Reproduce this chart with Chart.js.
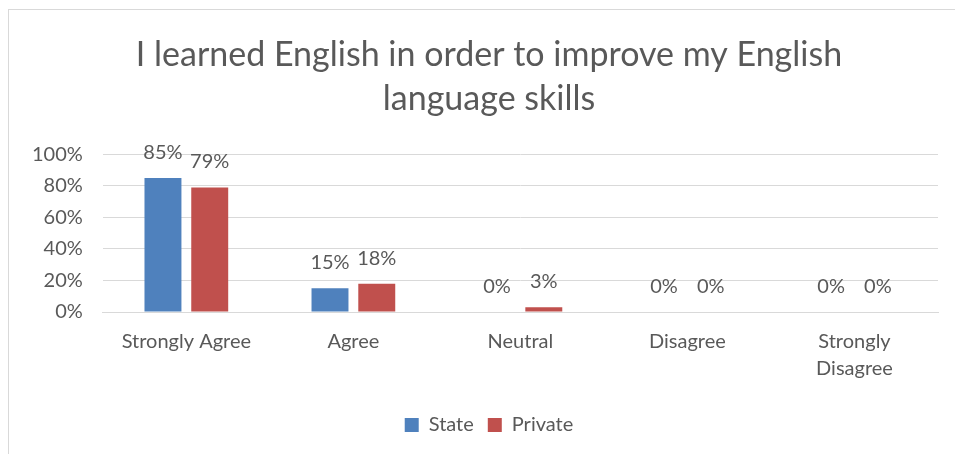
<!DOCTYPE html>
<html>
<head>
<meta charset="utf-8">
<script src="https://cdn.jsdelivr.net/npm/chart.js@4"></script>
<style>
  body { margin: 0; background: #fff; overflow: hidden; }
  #frame {
    position: absolute; left: 8px; top: 9px; width: 964px; height: 445px;
    border-left: 1px solid #d9d9d9; border-top: 1px solid #d9d9d9;
  }
</style>
</head>
<body>
<div id="frame"><canvas id="chart" width="963" height="444"></canvas></div>
<script>
const categories = ['Strongly Agree', 'Agree', 'Neutral', 'Disagree', ['Strongly', 'Disagree']];
const stateValues = [85, 15, 0, 0, 0];
const privateValues = [79, 18, 3, 0, 0];
const yTicks = [0, 20, 40, 60, 80, 100];

const textColor = '#595959';
const fontFamily = "Lato, 'Open Sans', sans-serif";

// percent labels above every bar
const barLabels = {
  id: 'barLabels',
  afterDatasetsDraw(chart) {
    const ctx = chart.ctx;
    ctx.save();
    ctx.font = '20px ' + fontFamily;
    ctx.fillStyle = textColor;
    ctx.textAlign = 'center';
    ctx.textBaseline = 'alphabetic';
    chart.data.datasets.forEach((ds, i) => {
      chart.getDatasetMeta(i).data.forEach((bar, j) => {
        ctx.fillText(ds.data[j] + '%', bar.x, bar.y - 19);
      });
    });
    ctx.restore();
  }
};

// y axis was narrowed in afterFit; widen its box again so the labels aren't clipped
const yLabelRoom = {
  id: 'yLabelRoom',
  afterLayout(chart) { chart.scales.y.left = 0; }
};

new Chart(document.getElementById('chart'), {
  type: 'bar',
  data: {
    labels: categories,
    datasets: [
      { label: 'State', data: stateValues, backgroundColor: '#4F81BD', categoryPercentage: 0.56, barPercentage: 0.79 },
      { label: 'Private', data: privateValues, backgroundColor: '#C0504D', categoryPercentage: 0.56, barPercentage: 0.79 }
    ]
  },
  plugins: [barLabels, yLabelRoom],
  options: {
    responsive: false,
    animation: false,
    layout: { padding: { left: 31, right: 34, top: 23, bottom: 9 } },
    plugins: {
      title: {
        display: true,
        text: ['I learned English in order to improve my English', 'language skills'],
        color: textColor,
        font: { family: fontFamily, size: 34, weight: 'normal', lineHeight: 1.3 },
        padding: { top: 0, bottom: 33 }
      },
      legend: {
        position: 'bottom',
        labels: {
          color: textColor,
          font: { family: fontFamily, size: 20 },
          boxWidth: 14, boxHeight: 14,
          padding: 14
        }
      },
      tooltip: { enabled: false }
    },
    scales: {
      x: {
        grid: { display: false },
        border: { color: '#d9d9d9' },
        ticks: { color: textColor, font: { family: fontFamily, size: 20, lineHeight: 1.35 }, maxRotation: 0, padding: 8 },
        // extra room between the category labels and the legend
        afterFit(axis) { axis.height += 11; }
      },
      y: {
        min: 0, max: 100,
        afterBuildTicks(axis) { axis.ticks = yTicks.map(v => ({ value: v })); },
        grid: { color: '#d9d9d9', drawTicks: false },
        border: { display: false },
        ticks: { color: textColor, font: { family: fontFamily, size: 20 }, padding: 20, autoSkip: false, callback: v => v + '%' },
        afterFit(axis) { axis.width -= 28; }
      }
    }
  }
});
</script>
</body>
</html>
